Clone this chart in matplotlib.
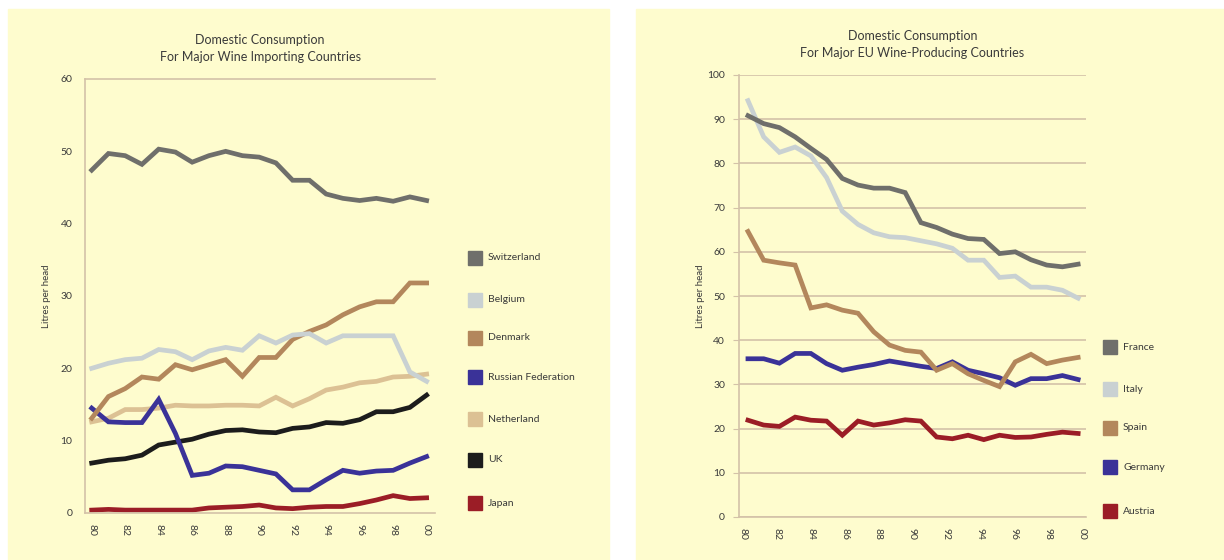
import numpy as np
import matplotlib
matplotlib.use("Agg")
import matplotlib.pyplot as plt
from matplotlib.patches import Rectangle

# --- data: litres per head ---
imp_names = ["Switzerland", "Belgium", "Denmark", "Russian Federation", "Netherland", "UK", "Japan"]
switzerland = [47.4, 49.7, 49.4, 48.2, 50.3, 49.9, 48.5, 49.4, 50.0, 49.4, 49.2,
               48.4, 46.0, 46.0, 44.1, 43.5, 43.2, 43.5, 43.1, 43.7, 43.2]
belgium = [20.0, 20.7, 21.2, 21.4, 22.6, 22.3, 21.2, 22.4, 22.9, 22.5, 24.5,
           23.5, 24.6, 24.8, 23.5, 24.5, 24.5, 24.5, 24.5, 19.5, 18.2]
denmark = [13.1, 16.1, 17.2, 18.8, 18.5, 20.5, 19.8, 20.5, 21.2, 18.9, 21.5,
           21.5, 24.0, 25.1, 26.0, 27.4, 28.5, 29.2, 29.2, 31.8, 31.8]
russia = [14.5, 12.6, 12.5, 12.5, 15.7, 11.0, 5.2, 5.5, 6.5, 6.4, 5.9,
          5.4, 3.2, 3.2, 4.6, 5.9, 5.5, 5.8, 5.9, 6.9, 7.8]
netherland = [12.6, 13.1, 14.3, 14.3, 14.5, 14.9, 14.8, 14.8, 14.9, 14.9, 14.8,
              16.0, 14.8, 15.8, 17.0, 17.4, 18.0, 18.2, 18.8, 18.9, 19.2]
uk = [6.9, 7.3, 7.5, 8.0, 9.4, 9.8, 10.2, 10.9, 11.4, 11.5, 11.2,
      11.1, 11.7, 11.9, 12.5, 12.4, 12.9, 14.0, 14.0, 14.6, 16.3]
japan = [0.4, 0.5, 0.4, 0.4, 0.4, 0.4, 0.4, 0.7, 0.8, 0.9, 1.1,
         0.7, 0.6, 0.8, 0.9, 0.9, 1.3, 1.8, 2.4, 2.0, 2.1]

eu_names = ["France", "Italy", "Spain", "Germany", "Austria"]
france = [90.8, 89.0, 88.1, 86.0, 83.4, 80.9, 76.6, 75.1, 74.4, 74.4, 73.4,
          66.6, 65.5, 64.0, 63.0, 62.8, 59.6, 60.0, 58.2, 57.0, 56.6, 57.2]
italy = [94.2, 86.0, 82.5, 83.7, 81.7, 76.8, 69.2, 66.2, 64.3, 63.4, 63.2,
         62.5, 61.8, 60.8, 58.1, 58.1, 54.2, 54.5, 52.0, 52.0, 51.3, 49.5]
spain = [64.6, 58.1, 57.5, 57.0, 47.3, 48.0, 46.8, 46.1, 41.9, 38.9, 37.7,
         37.3, 33.2, 34.7, 32.4, 30.9, 29.5, 35.1, 36.8, 34.7, 35.5, 36.1]
germany = [35.8, 35.8, 34.8, 37.0, 37.0, 34.7, 33.2, 33.9, 34.5, 35.3, 34.7,
           34.1, 33.6, 35.1, 33.2, 32.4, 31.5, 29.8, 31.3, 31.3, 32.0, 31.1]
austria = [21.9, 20.8, 20.5, 22.6, 21.9, 21.7, 18.5, 21.7, 20.8, 21.3, 22.0,
           21.7, 18.1, 17.7, 18.5, 17.5, 18.5, 18.0, 18.1, 18.7, 19.2, 18.9]

year_labels = ["80", "82", "84", "86", "88", "90", "92", "94", "96", "98", "00"]

# colours
GREY = "#6f6f6b"
LIGHT = "#c9d1d2"
BROWN = "#b3875c"
BLUE = "#3a3298"
TAN = "#dcc194"
BLACK = "#1c1c1c"
RED = "#9b1d26"
PANEL = "#fefcce"
AXIS = "#d3c2a8"
TXT = "#3a3a3a"

plt.rcParams["font.family"] = ["Lato", "DejaVu Sans"]

W, H = 1224, 560
fig = plt.figure(figsize=(W / 100, H / 100), dpi=100)


def px_box(x0, y0, x1, y1):
    # pixel box (top-left origin) -> figure fraction rect
    return [x0 / W, 1 - y1 / H, (x1 - x0) / W, (y1 - y0) / H]


# yellow panels, kept behind the axes
for x0, x1 in [(8, 609), (636, 1224)]:
    fig.patches.append(Rectangle((x0 / W, 0), (x1 - x0) / W, 1 - 9 / H,
                                 transform=fig.transFigure, color=PANEL, zorder=-5))


def style(ax, ylabpad):
    ax.set_facecolor("none")
    for s in ax.spines.values():
        s.set_color(AXIS)
        s.set_linewidth(1.2)
    ax.tick_params(axis="both", colors=AXIS, labelcolor=TXT, labelsize=7.5)
    ax.tick_params(axis="x", length=0, pad=8, labelrotation=-90)
    ax.set_ylabel("Litres per head", fontsize=7, color=TXT, labelpad=ylabpad)


def legend(names, colors, x_sq, x_txt, ys):
    for name, c, y in zip(names, colors, ys):
        fig.patches.append(Rectangle((x_sq / W, 1 - (y + 7) / H), 14 / W, 14 / H,
                                     transform=fig.transFigure, color=c, zorder=2))
        fig.text(x_txt / W, 1 - y / H, name, fontsize=7.5, color=TXT, va="center")


# ---- left chart ----
ax1 = fig.add_axes(px_box(85, 79, 435, 513))
style(ax1, 7)
x1 = np.arange(len(switzerland))
imp_series = [switzerland, belgium, denmark, russia, netherland, uk, japan]
imp_colors = [GREY, LIGHT, BROWN, BLUE, TAN, BLACK, RED]
# draw back to front so Switzerland etc. sit on top like the original
for vals, c in zip(imp_series[::-1], imp_colors[::-1]):
    ax1.plot(x1, vals, color=c, lw=3.4, solid_joinstyle="miter")
ax1.set_xlim(-0.4, 20.5)
ax1.set_ylim(0, 60)
ax1.set_yticks(range(0, 61, 10))
ax1.set_xticks(x1[::2])
ax1.set_xticklabels(year_labels)
ax1.tick_params(axis="y", length=0, pad=9)
ax1.spines["right"].set_visible(False)
ax1.set_title("Domestic Consumption\nFor Major Wine Importing Countries",
              fontsize=9, color=TXT, pad=13, linespacing=1.5)
legend(imp_names, imp_colors, 468, 488, [258, 300, 338, 377, 419, 460, 503])

# ---- right chart ----
ax2 = fig.add_axes(px_box(739, 75, 1086, 517))
style(ax2, 2)
x2 = np.arange(len(france))
eu_series = [france, italy, spain, germany, austria]
eu_colors = [GREY, LIGHT, BROWN, BLUE, RED]
ax2.grid(axis="y", color=AXIS, lw=1.2)
ax2.set_axisbelow(True)
for vals, c in zip(eu_series[::-1], eu_colors[::-1]):
    ax2.plot(x2, vals, color=c, lw=3.4, solid_joinstyle="miter")
ax2.set_xlim(-0.57, 21.5)
ax2.set_ylim(0, 100)
ax2.set_yticks(range(0, 101, 10))
ax2.set_xticks(np.linspace(-0.32, 21.23, 11))
ax2.set_xticklabels(year_labels)
ax2.tick_params(axis="y", length=4, pad=6)
ax2.spines["right"].set_visible(False)
ax2.spines["top"].set_visible(False)
ax2.set_title("Domestic Consumption\nFor Major EU Wine-Producing Countries",
              fontsize=9, color=TXT, pad=13, linespacing=1.5)
legend(eu_names, eu_colors, 1103, 1123, [347, 389, 428, 467, 511])

fig.savefig("out.png", dpi=100)
